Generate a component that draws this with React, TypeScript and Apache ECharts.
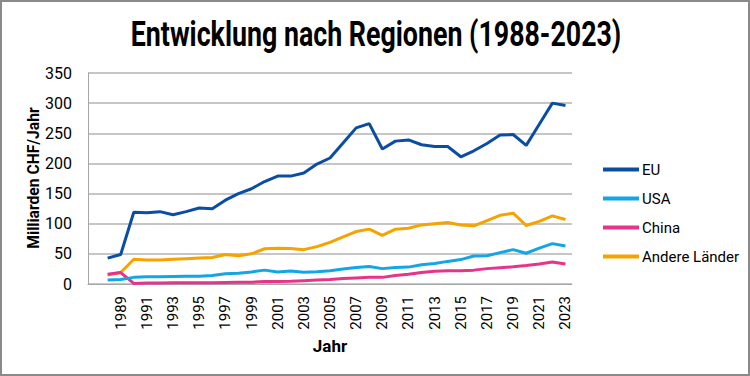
import React, { useEffect, useRef } from "react";
import * as echarts from "echarts";

const years = ["", "1988", "1989", "1990", "1991", "1992", "1993", "1994", "1995", "1996", "1997", "1998", "1999", "2000", "2001", "2002", "2003", "2004", "2005", "2006", "2007", "2008", "2009", "2010", "2011", "2012", "2013", "2014", "2015", "2016", "2017", "2018", "2019", "2020", "2021", "2022", "2023"];

const eu = [null, 43, 49, 119, 118, 120, 115, 120, 126, 125, 139, 150, 158, 170, 179, 179, 184, 199, 209, 234, 259, 266, 224, 237, 239, 231, 228, 228, 211, 221, 233, 247, 248, 230, 265, 300, 296];
const usa = [null, 6.5, 7.5, 11, 12, 12, 12.5, 13, 13, 14, 17, 18, 20, 23, 20, 21.5, 19.5, 20.5, 22, 25, 27.5, 29, 25.5, 27.5, 28, 32, 34, 37.5, 40.5, 46.5, 47, 52, 57, 51, 59.5, 67, 63];
const china = [null, 16, 19, 1, 1.5, 1.5, 2, 2, 2, 2, 2.5, 3, 3, 4, 4, 4.5, 5.5, 6.5, 7.5, 9, 10, 11, 11, 14, 16, 19, 21, 22, 22, 23, 25.5, 27, 28.5, 30.5, 33, 36.5, 33];
const andere = [null, 15, 19, 41, 40, 40, 41, 42, 43, 44, 49, 47, 50, 58.5, 59.5, 59, 57, 62, 69, 78, 87, 91, 80.5, 91, 92.5, 98, 100, 102, 98, 96.5, 105, 114, 117.5, 97, 104, 113, 107];

const seriesNames = ["EU", "USA", "China", "Andere Länder"];
const seriesColors = ["#0a4ea3", "#12a6e3", "#e6348b", "#f5a300"];

const FONT = "Roboto, 'Liberation Sans', sans-serif";
const titleText = "Entwicklung nach Regionen (1988-2023)";

export default function App() {
  const ref = useRef<HTMLDivElement>(null);
  useEffect(() => {
    document.body.style.margin = "0";
    if (!ref.current) return;
    const chart = echarts.init(ref.current, undefined, { renderer: "svg" });
    const data = [eu, usa, china, andere];
    chart.setOption({
      animation: false,
      backgroundColor: "#ffffff",
      textStyle: { fontFamily: FONT },
      graphic: [
        {
          type: "text",
          x: 376,
          y: 34,
          scaleX: 0.765,
          style: {
            text: titleText,
            font: "bold 35px " + FONT,
            fill: "#000",
            textAlign: "center",
            textVerticalAlign: "middle",
          },
          silent: true,
        },
        {
          type: "text",
          x: 33,
          y: 178,
          rotation: Math.PI / 2,
          scaleX: 0.92,
          style: {
            text: "Milliarden CHF/Jahr",
            font: "bold 17px " + FONT,
            fill: "#000",
            textAlign: "center",
            textVerticalAlign: "middle",
          },
          silent: true,
        },
        {
          type: "rect",
          shape: { x: 1, y: 1, width: 748, height: 374 },
          style: { fill: "none", stroke: "#8a8a8a", lineWidth: 2 },
          silent: true,
          z: 100,
        },
      ],
      legend: {
        orient: "vertical",
        left: 598,
        top: 157,
        icon: "rect",
        itemWidth: 36,
        itemHeight: 4,
        itemGap: 14,
        textStyle: { fontFamily: FONT, fontSize: 15, color: "#000", padding: [0, 0, 0, -2] },
        data: seriesNames,
      },
      grid: { left: 88, right: 178, top: 73, bottom: 92, containLabel: false },
      xAxis: {
        type: "category",
        data: years,
        boundaryGap: true,
        name: "Jahr",
        nameLocation: "middle",
        nameGap: 52,
        nameTextStyle: { fontFamily: FONT, fontSize: 17, fontWeight: "bold", color: "#000" },
        axisLine: { show: true, lineStyle: { color: "#a6a6a6", width: 1 } },
        axisTick: { show: false },
        axisLabel: {
          rotate: 90,
          interval: 1,
          margin: 12,
          fontFamily: FONT,
          fontSize: 15,
          color: "#000",
        },
      },
      yAxis: {
        type: "value",
        min: 0,
        max: 350,
        interval: 50,
        axisLine: { show: true, lineStyle: { color: "#a6a6a6", width: 1 } },
        axisTick: { show: false },
        axisLabel: { margin: 16, fontFamily: FONT, fontSize: 16, color: "#000" },
        splitLine: { show: true, lineStyle: { color: "#b3b3b3", width: 1.5 } },
      },
      series: seriesNames.map((name, i) => ({
        name,
        type: "line",
        data: data[i],
        symbol: "none",
        showSymbol: false,
        connectNulls: false,
        color: seriesColors[i],
        lineStyle: { width: 3, color: seriesColors[i] },
        itemStyle: { color: seriesColors[i] },
        z: 10 - i,
      })),
    });
    return () => chart.dispose();
  }, []);
  return <div ref={ref} style={{ width: 750, height: 376 }} />;
}
